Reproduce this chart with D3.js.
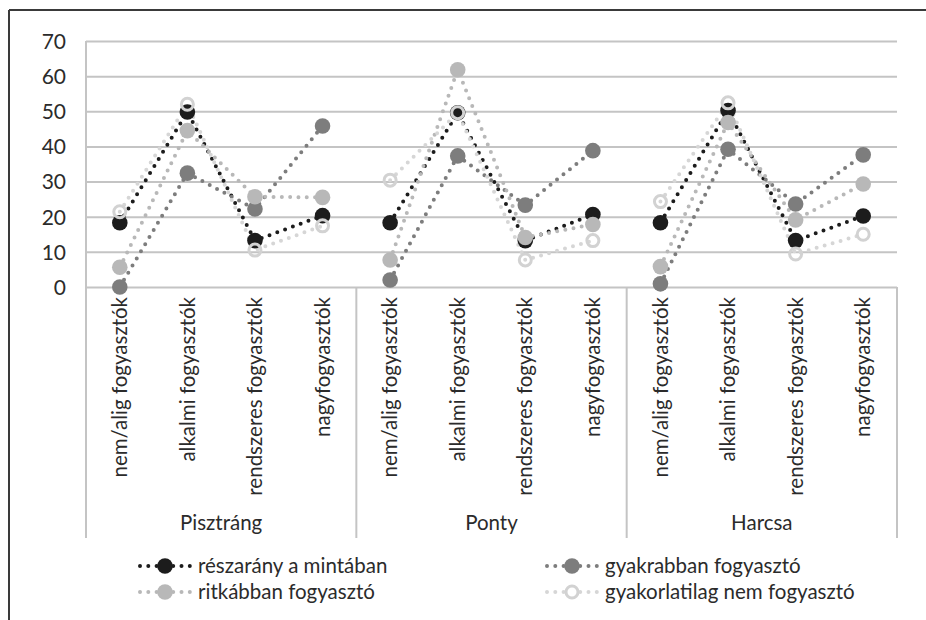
<!DOCTYPE html>
<html><head><meta charset="utf-8">
<script src="https://cdn.jsdelivr.net/npm/d3@7"></script>
<style>
html,body{margin:0;padding:0;background:#fff;}
svg{display:block;}
text{font-family:Lato,"Open Sans",sans-serif;fill:#2b2b2b;}
</style></head>
<body>
<svg id="chart" width="926" height="620"></svg>
<script>
const groups = ["Pisztráng", "Ponty", "Harcsa"];
const categories = ["nem/alig fogyasztók", "alkalmi fogyasztók", "rendszeres fogyasztók", "nagyfogyasztók"];
const tickLabels = [0, 10, 20, 30, 40, 50, 60, 70];
const seriesNames = ["részarány a mintában", "gyakrabban fogyasztó", "ritkábban fogyasztó", "gyakorlatilag nem fogyasztó"];
const reszarany     = [18.3, 49.8, 13.2, 20.3,  18.3, 49.6, 13.2, 20.6,  18.3, 50.2, 13.2, 20.2];
const gyakrabban    = [0.0, 32.4, 22.2, 45.8,   2.0, 37.3, 23.3, 38.8,   0.9, 39.2, 23.6, 37.6];
const ritkabban     = [5.6, 44.5, 25.7, 25.5,   7.7, 61.8, 14.1, 17.8,   5.8, 46.8, 19.1, 29.3];
const gyakorlatilag = [21.4, 52.0, 10.5, 17.4,  30.4, 49.6, 7.7, 13.2,   24.3, 52.4, 9.4, 15.0];

(function(){
const seriesValues = [reszarany, gyakrabban, ritkabban, gyakorlatilag];
const styles = [
  {line:"#1c1c1c", fill:"#1c1c1c", stroke:"#1c1c1c", hollow:false},
  {line:"#7d7d7d", fill:"#7d7d7d", stroke:"#7d7d7d", hollow:false},
  {line:"#b8b8b8", fill:"#b8b8b8", stroke:"#b8b8b8", hollow:false},
  {line:"#d6d6d6", fill:"none", stroke:"#d2d2d2", hollow:true}
];
const fs = 20.5;

const svg = d3.select("#chart");
const pLeft = 86, pRight = 897, pTop = 41, pBottom = 287, axisBottom = 538;

// outer frame (top + left)
svg.append("line").attr("x1",9).attr("x2",926).attr("y1",10).attr("y2",10).attr("stroke","#3a3a3a").attr("stroke-width",2);
svg.append("line").attr("x1",9).attr("x2",9).attr("y1",10).attr("y2",620).attr("stroke","#3a3a3a").attr("stroke-width",2);

const y = d3.scaleLinear().domain([0,70]).range([pBottom, pTop]);
const xg = d3.scaleBand().domain(groups).range([pLeft, pRight]).padding(0);
const xc = d3.scaleBand().domain(categories).range([0, xg.bandwidth()]).padding(0);
const xPos = i => xg(groups[Math.floor(i/4)]) + xc(categories[i%4]) + xc.bandwidth()/2;

// gridlines
const yAxis = d3.axisLeft(y).tickValues(tickLabels).tickSize(-(pRight-pLeft)).tickPadding(20).tickFormat(d3.format("d"));
const ga = svg.append("g").attr("transform",`translate(${pLeft},0)`).call(yAxis);
ga.select(".domain").remove();
ga.selectAll(".tick line").attr("stroke","#c4c4c4").attr("stroke-width",2);
ga.selectAll(".tick text").attr("font-size",21).attr("fill","#333").attr("dy","0.35em").attr("x",-20)
  .style("font-family","Lato, 'Open Sans', sans-serif");

// value axis line
svg.append("line").attr("x1",pLeft).attr("x2",pLeft).attr("y1",pTop).attr("y2",pBottom).attr("stroke","#c4c4c4").attr("stroke-width",2);

// category axis dividers
const dividers = groups.map(g => xg(g)).concat([pRight]);
svg.selectAll(".div").data(dividers).enter().append("line")
  .attr("x1",d=>d).attr("x2",d=>d).attr("y1",pBottom).attr("y2",axisBottom)
  .attr("stroke","#c4c4c4").attr("stroke-width",2);

// category labels
const catIdx = d3.range(12);
svg.selectAll(".cat").data(catIdx).enter().append("text")
  .attr("transform", i => `translate(${xPos(i)},297) rotate(-90)`)
  .attr("text-anchor","end").attr("dy","0.35em").attr("font-size",fs).attr("fill","#333")
  .text(i => categories[i%4]);

// group labels
svg.selectAll(".grp").data(groups).enter().append("text")
  .attr("x", g => xg(g) + xg.bandwidth()/2).attr("y", 523).attr("dy","0.35em")
  .attr("text-anchor","middle").attr("font-size",fs).attr("fill","#333").text(g=>g);

// lines (broken between groups)
const line = d3.line().x(d=>xPos(d.i)).y(d=>y(d.v));
seriesValues.forEach((vals, s) => {
  groups.forEach((g, gi) => {
    const pts = d3.range(4).map(k => ({i: gi*4+k, v: vals[gi*4+k]}));
    svg.append("path").datum(pts).attr("d", line).attr("fill","none")
      .attr("stroke", styles[s].line).attr("stroke-width",4)
      .attr("stroke-linecap","round").attr("stroke-dasharray","0 8.3");
  });
});
// markers
seriesValues.forEach((vals, s) => {
  const st = styles[s];
  svg.selectAll(".m"+s).data(vals).enter().append("circle")
    .attr("cx",(d,i)=>xPos(i)).attr("cy",d=>y(d))
    .attr("r", st.hollow ? 6 : 7.8)
    .attr("fill", st.fill).attr("stroke", st.stroke).attr("stroke-width", st.hollow ? 3 : 0);
});

// legend
const legendPos = [
  {cx:165, tx:198, y:566}, {cx:572, tx:605, y:566},
  {cx:165, tx:198, y:592}, {cx:572, tx:605, y:592}
];
seriesNames.forEach((name, s) => {
  const p = legendPos[s], st = styles[s];
  const lg = svg.append("g");
  lg.append("line").attr("x1",p.cx-25).attr("x2",p.cx+25).attr("y1",p.y).attr("y2",p.y)
    .attr("stroke",st.line).attr("stroke-width",4).attr("stroke-linecap","round").attr("stroke-dasharray","0 8.3");
  lg.append("circle").attr("cx",p.cx).attr("cy",p.y).attr("r", st.hollow ? 6 : 7.8)
    .attr("fill", st.hollow ? "#fff" : st.fill).attr("stroke", st.stroke).attr("stroke-width", st.hollow ? 3 : 0);
  lg.append("text").attr("x",p.tx).attr("y",p.y).attr("dy","0.35em").attr("font-size",fs).attr("fill","#222").text(name);
});
})();
</script>
</body></html>
